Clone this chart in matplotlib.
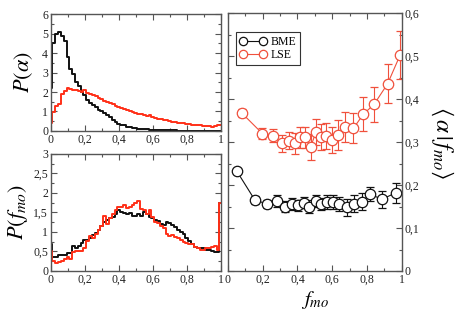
import numpy as np
import matplotlib
matplotlib.use("Agg")
import matplotlib.pyplot as plt
from matplotlib.ticker import MultipleLocator, FuncFormatter
from matplotlib.lines import Line2D

plt.rcParams['font.family'] = ['Liberation Serif', 'DejaVu Serif']
plt.rcParams['mathtext.fontset'] = 'stix'

# histogram points (drawn as mid steps), 61 points on [0, 1]
x_hist = np.arange(61) / 60.0

p_alpha_bme = [2.2, 4.5, 5.0, 5.1, 4.9, 4.6, 3.8, 3.2, 2.9, 2.5,
               2.3, 2.0, 1.85, 1.6, 1.45, 1.35, 1.25, 1.1, 1.0, 0.92,
               0.8, 0.7, 0.55, 0.45, 0.38, 0.32, 0.3, 0.22, 0.2, 0.15,
               0.13, 0.12, 0.1, 0.09, 0.08, 0.07, 0.06, 0.05, 0.05, 0.04,
               0.04, 0.03, 0.03, 0.03, 0.03, 0.02, 0.02, 0.02, 0.02, 0.02,
               0.02, 0.01, 0.01, 0.01, 0.01, 0.01, 0.01, 0.01, 0.01, 0.01, 0.01]
p_alpha_lse = [0.4, 0.95, 1.3, 1.4, 1.9, 2.05, 2.2, 2.15, 2.1, 2.1,
               2.05, 2.0, 2.1, 1.95, 1.9, 1.85, 1.8, 1.7, 1.65, 1.55,
               1.5, 1.45, 1.4, 1.3, 1.25, 1.2, 1.15, 1.05, 1.0, 0.95,
               0.92, 0.88, 0.85, 0.8, 0.75, 0.8, 0.7, 0.68, 0.62, 0.6,
               0.55, 0.58, 0.5, 0.48, 0.45, 0.42, 0.4, 0.4, 0.35, 0.35,
               0.33, 0.3, 0.3, 0.32, 0.27, 0.25, 0.25, 0.22, 0.25, 0.28, 0.32]

p_fmo_bme = [0.7, 0.35, 0.37, 0.4, 0.4, 0.42, 0.45, 0.47, 0.65, 0.6,
             0.65, 0.72, 0.8, 0.8, 0.85, 0.92, 0.97, 1.05, 1.15, 1.25,
             1.3, 1.35, 1.38, 1.45, 1.55, 1.52, 1.48, 1.45, 1.48, 1.42,
             1.4, 1.45, 1.42, 1.5, 1.45, 1.38, 1.35, 1.3, 1.28, 1.2,
             1.18, 1.25, 1.22, 1.18, 1.12, 1.05, 1.0, 0.95, 0.85, 0.78,
             0.7, 0.62, 0.6, 0.6, 0.58, 0.55, 0.55, 0.5, 0.48, 0.48, 1.75]
p_fmo_lse = [0.5, 0.25, 0.2, 0.23, 0.25, 0.3, 0.35, 0.3, 0.48, 0.5,
             0.5, 0.52, 0.6, 0.78, 0.9, 0.85, 0.95, 1.05, 1.15, 1.4,
             1.2, 1.35, 1.45, 1.55, 1.65, 1.65, 1.68, 1.62, 1.65, 1.7,
             1.75, 1.8, 1.6, 1.55, 1.45, 1.55, 1.38, 1.25, 1.22, 1.15,
             1.1, 0.95, 0.9, 0.92, 0.88, 0.85, 0.8, 0.75, 0.72, 0.7,
             0.68, 0.62, 0.6, 0.55, 0.55, 0.6, 0.6, 0.62, 0.65, 0.55, 1.75]

# conditional mean <alpha | f_mo>
fmo_bme = [0.050, 0.155, 0.226, 0.284, 0.328, 0.367, 0.405, 0.438, 0.468, 0.505,
           0.535, 0.568, 0.606, 0.641, 0.683, 0.725, 0.770, 0.818, 0.885, 0.967]
mean_bme = [0.233, 0.165, 0.156, 0.163, 0.150, 0.156, 0.153, 0.159, 0.150, 0.163,
            0.156, 0.161, 0.161, 0.156, 0.148, 0.157, 0.161, 0.179, 0.167, 0.182]
err_bme = [0.007, 0.01, 0.01, 0.013, 0.012, 0.013, 0.013, 0.013, 0.015, 0.015,
           0.015, 0.017, 0.017, 0.017, 0.02, 0.02, 0.02, 0.017, 0.02, 0.023]

fmo_lse = [0.079, 0.198, 0.261, 0.309, 0.351, 0.386, 0.414, 0.443, 0.476, 0.507,
           0.535, 0.564, 0.597, 0.635, 0.674, 0.722, 0.779, 0.841, 0.919, 0.990]
mean_lse = [0.368, 0.320, 0.315, 0.297, 0.303, 0.297, 0.311, 0.311, 0.289, 0.324,
            0.312, 0.314, 0.305, 0.316, 0.336, 0.332, 0.365, 0.388, 0.436, 0.502]
err_lse = [0.01, 0.012, 0.015, 0.02, 0.02, 0.025, 0.025, 0.025, 0.03, 0.03,
           0.03, 0.03, 0.03, 0.035, 0.035, 0.035, 0.04, 0.04, 0.046, 0.056]

BLACK = '#111111'
RED = '#ff3018'
RED2 = '#f0503c'
FRAME = '#555555'


def comma(v, pos):
    if abs(v) < 1e-9:
        return '0'
    return ('%g' % v).replace('.', ',')


def style(ax, xmaj, xmin, ymaj, ymin):
    ax.xaxis.set_major_locator(MultipleLocator(xmaj))
    ax.xaxis.set_minor_locator(MultipleLocator(xmin))
    ax.yaxis.set_major_locator(MultipleLocator(ymaj))
    ax.yaxis.set_minor_locator(MultipleLocator(ymin))
    ax.xaxis.set_major_formatter(FuncFormatter(comma))
    ax.yaxis.set_major_formatter(FuncFormatter(comma))
    ax.tick_params(which='both', direction='in', top=True, right=True,
                   labelsize=8.5, colors=FRAME, labelcolor='#222222', pad=2)
    ax.tick_params(which='major', length=4, width=0.8)
    ax.tick_params(which='minor', length=2, width=0.8)
    for s in ax.spines.values():
        s.set_color(FRAME)
        s.set_linewidth(1.0)


fig = plt.figure(figsize=(4.63, 3.14), dpi=100)

ax1 = fig.add_axes([0.110, 0.583, 0.367, 0.372])
ax1.plot(x_hist, p_alpha_bme, drawstyle='steps-mid', color=BLACK, lw=1.4)
ax1.plot(x_hist, p_alpha_lse, drawstyle='steps-mid', color=RED, lw=1.4)
ax1.set_xlim(0, 1)
ax1.set_ylim(0, 6)
style(ax1, 0.2, 0.1, 1, 0.5)
ax1.set_ylabel(r'$P(\alpha)$', fontsize=16, labelpad=5)

ax2 = fig.add_axes([0.110, 0.137, 0.367, 0.373])
ax2.plot(x_hist, p_fmo_bme, drawstyle='steps-mid', color=BLACK, lw=1.4)
ax2.plot(x_hist, p_fmo_lse, drawstyle='steps-mid', color=RED, lw=1.4)
ax2.set_xlim(0, 1)
ax2.set_ylim(0, 3)
style(ax2, 0.2, 0.1, 0.5, 0.25)
ax2.set_ylabel(r'$P(f_{mo})$', fontsize=16, labelpad=2)

ax3 = fig.add_axes([0.4924, 0.137, 0.3752, 0.8206])
ax3.errorbar(fmo_bme, mean_bme, yerr=err_bme, color=BLACK, lw=0.8, elinewidth=0.8,
             capsize=3, capthick=0.8, marker='o', ms=7.5, mfc='white', mec=BLACK,
             mew=0.9)
ax3.errorbar(fmo_lse, mean_lse, yerr=err_lse, color=RED2, lw=0.8, elinewidth=0.8,
             capsize=3, capthick=0.8, marker='o', ms=7.5, mfc='white', mec=RED2,
             mew=0.9)
ax3.set_xlim(0, 1)
ax3.set_ylim(0, 0.6)
style(ax3, 0.2, 0.1, 0.1, 0.05)
ax3.tick_params(axis='y', which='both', labelleft=False, labelright=True)
ax3.set_xlabel(r'$f_{mo}$', fontsize=15, labelpad=2)
ax3.yaxis.set_label_position('right')
ax3.set_ylabel(r'$\langle\,\alpha\,|\,f_{mo}\rangle$', fontsize=17,
               rotation=-90, labelpad=26)

handles = [Line2D([], [], color=BLACK, lw=0.8, marker='o', ms=6, mfc='white',
                  mec=BLACK, mew=0.9),
           Line2D([], [], color=RED2, lw=0.8, marker='o', ms=6, mfc='white',
                  mec=RED2, mew=0.9)]
leg = ax3.legend(handles, ['BME', 'LSE'], loc='upper left',
                 bbox_to_anchor=(0.03, 0.935), numpoints=2,
                 fontsize=8.5, frameon=True, fancybox=False, handlelength=2.3,
                 handletextpad=0.4, borderpad=0.3, labelspacing=0.1,
                 borderaxespad=0.2, framealpha=1)
leg.get_frame().set_edgecolor('#333333')
leg.get_frame().set_linewidth(0.8)

fig.savefig('out.png', dpi=100)
